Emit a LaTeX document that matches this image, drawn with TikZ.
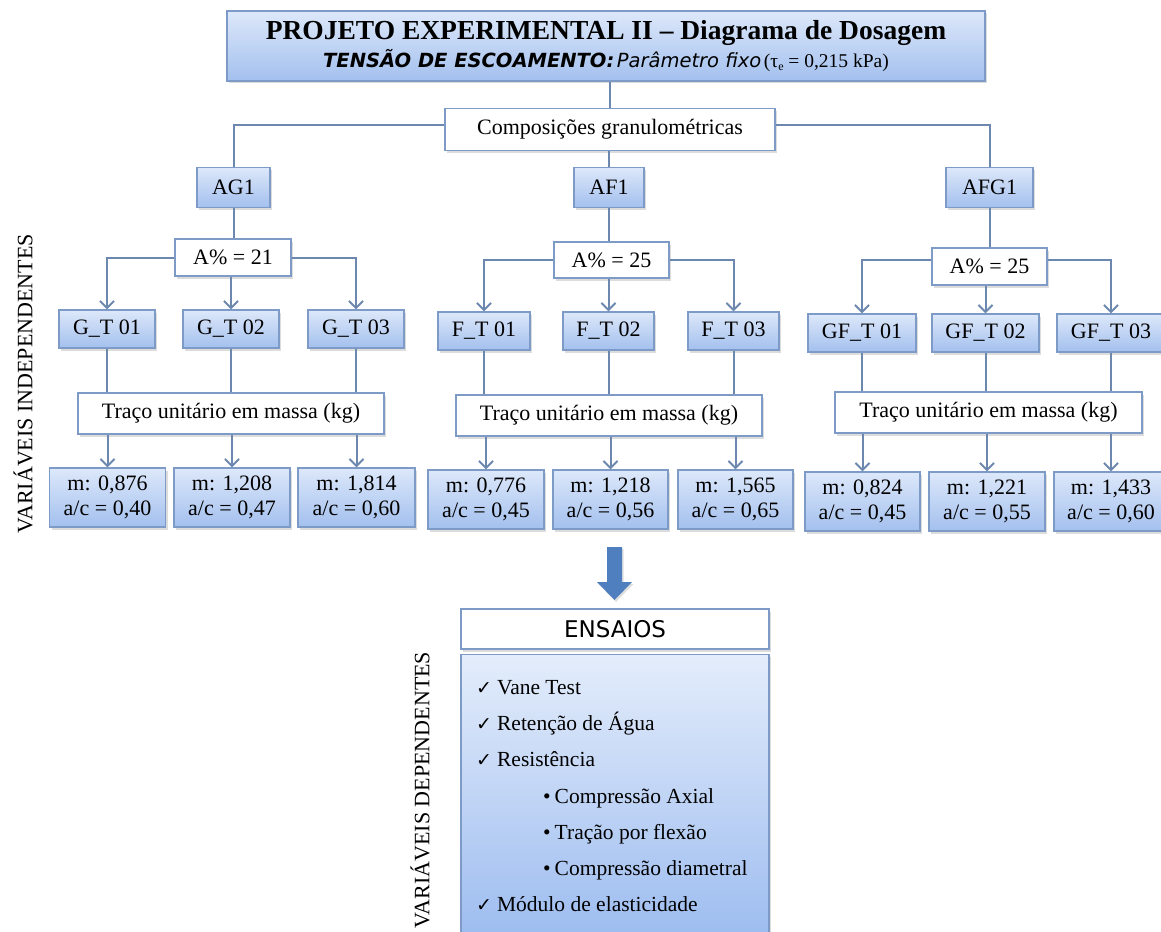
\documentclass[tikz,border=0pt]{standalone}
\usepackage{fontspec}
\setmainfont{Liberation Serif}
\newfontfamily\handfont{DejaVu Sans}
\newfontfamily\symfont{DejaVu Sans}
\usetikzlibrary{arrows.meta,shadows}
\definecolor{boxtop}{HTML}{DDE8FA}
\definecolor{boxbot}{HTML}{A3C0EE}
\definecolor{listbot}{HTML}{9BBBEF}
\definecolor{edgecol}{HTML}{7D9BC6}
\definecolor{wirecol}{HTML}{6C88AE}
\definecolor{bigarrowcol}{HTML}{4F7FBE}
\newcommand\setfs[2]{\fontsize{#1}{#2}\selectfont}

\begin{document}
\begin{tikzpicture}[x=1pt,y=-1pt,
  box/.style={draw=edgecol, line width=1.3pt, inner sep=0pt, align=center,
    drop shadow={shadow xshift=2pt,shadow yshift=-2.5pt,opacity=0.28}},
  bluebox/.style={box, top color=boxtop, bottom color=boxbot},
  whitebox/.style={box, fill=white},
  wirestyle/.style={draw=wirecol, line width=2pt},
  arr/.style={wirestyle, -{Straight Barb[length=7pt,width=14pt]}},
  body/.style={font=\setfs{22}{25.5}},
  val/.style={bluebox, body, minimum height=59},
  item/.style={anchor=west, inner sep=0pt, text height=16pt, text depth=2pt, font=\setfs{21.5}{25}},
]
\useasboundingbox (0,0) rectangle (1161,931);
\clip (0,0) rectangle (1161,931);

% title
\node[bluebox, minimum width=758, minimum height=70] (title) at (606,46)
  {{\setfs{27.5}{30}\bfseries PROJETO EXPERIMENTAL II -- Diagrama de Dosagem}\\[3pt]
   {\setfs{19.5}{22}\handfont\bfseries\itshape TENSÃO DE ESCOAMENTO:}
   {\setfs{19.5}{22}\handfont\itshape Parâmetro fixo}
   {\setfs{19.5}{22}(τ\raisebox{-2.5pt}{\setfs{12}{13}e} = 0,215 kPa)}};

\node[whitebox, body, minimum width=330, minimum height=42] (comp) at (610,129.5) {Composições granulométricas};

% compositions
\node[bluebox, body, minimum width=73, minimum height=40] (AG1) at (233.5,187.5) {AG1};
\node[bluebox, body, minimum width=70, minimum height=40] (AF1) at (609,187.5) {AF1};
\node[bluebox, body, minimum width=87, minimum height=40] (AFG1) at (989.5,187.5) {AFG1};

\node[whitebox, body, minimum width=116, minimum height=37] (A21) at (233,257.5) {A\% = 21};
\node[whitebox, body, minimum width=115, minimum height=36] (A25m) at (611.5,260) {A\% = 25};
\node[whitebox, body, minimum width=115, minimum height=37] (A25r) at (989.5,266.5) {A\% = 25};

% mixes
\node[bluebox, body, minimum width=96, minimum height=38] (G1) at (107,329) {G\_T 01};
\node[bluebox, body, minimum width=96, minimum height=38] (G2) at (231,329) {G\_T 02};
\node[bluebox, body, minimum width=96, minimum height=38] (G3) at (356,329) {G\_T 03};
\node[bluebox, body, minimum width=92, minimum height=38] (F1) at (484,331) {F\_T 01};
\node[bluebox, body, minimum width=91, minimum height=38] (F2) at (608.5,331) {F\_T 02};
\node[bluebox, body, minimum width=91, minimum height=38] (F3) at (733.5,331) {F\_T 03};
\node[bluebox, body, minimum width=108, minimum height=38] (GF1) at (862,333) {GF\_T 01};
\node[bluebox, body, minimum width=107, minimum height=38] (GF2) at (985.5,333) {GF\_T 02};
\node[bluebox, body, minimum width=108, minimum height=38] (GF3) at (1111,333) {GF\_T 03};

% unit mix labels
\node[whitebox, body, minimum width=306, minimum height=41] (TL) at (231,413.5) {Traço unitário em massa (kg)};
\node[whitebox, body, minimum width=306, minimum height=41] (TM) at (609,415.5) {Traço unitário em massa (kg)};
\node[whitebox, body, minimum width=307, minimum height=41] (TR) at (988.5,412.5) {Traço unitário em massa (kg)};

% values
\node[val, minimum width=116] (VL1) at (107.5,497.5) {m: 0,876\\a/c = 0,40};
\node[val, minimum width=116] (VL2) at (232,497.5) {m: 1,208\\a/c = 0,47};
\node[val, minimum width=117] (VL3) at (356.5,497.5) {m: 1,814\\a/c = 0,60};
\node[val, minimum width=116] (VM1) at (486,499.5) {m: 0,776\\a/c = 0,45};
\node[val, minimum width=115] (VM2) at (610.5,499.5) {m: 1,218\\a/c = 0,56};
\node[val, minimum width=115] (VM3) at (735.5,499.5) {m: 1,565\\a/c = 0,65};
\node[val, minimum width=115] (VR1) at (862.5,501.5) {m: 0,824\\a/c = 0,45};
\node[val, minimum width=116] (VR2) at (987,501.5) {m: 1,221\\a/c = 0,55};
\node[val, minimum width=114] (VR3) at (1111,501.5) {m: 1,433\\a/c = 0,60};

% side labels
\node[rotate=90, inner sep=0pt, font=\setfs{22}{26}] (indep) at (23,384) {VARIÁVEIS INDEPENDENTES};
\node[rotate=90, inner sep=0pt, font=\setfs{22}{26}] (dep) at (420,790) {VARIÁVEIS DEPENDENTES};

% connectors
\draw[wirestyle] (comp.north |- title.south) -- (comp.north);
\draw[wirestyle] ([yshift=4pt]comp.west) -| (AG1.north);
\draw[wirestyle] ([yshift=4pt]comp.east) -| (AFG1.north);
\draw[wirestyle] (comp.south -| AF1.north) -- (AF1.north);
\draw[wirestyle] (AG1.south) -- (AG1.south |- A21.north);
\draw[wirestyle] (AF1.south) -- (AF1.south |- A25m.north);
\draw[wirestyle] (AFG1.south) -- (AFG1.south |- A25r.north);

\draw[arr] (A21.west) -| (G1.north);
\draw[arr] (A21.south -| G2.north) -- (G2.north);
\draw[arr] (A21.east) -| (G3.north);
\draw[arr] (A25m.west) -| (F1.north);
\draw[arr] (A25m.south -| F2.north) -- (F2.north);
\draw[arr] (A25m.east) -| (F3.north);
\draw[arr] ([yshift=6.5pt]A25r.west) -| (GF1.north);
\draw[arr] (A25r.south -| GF2.north) -- (GF2.north);
\draw[arr] ([yshift=6.5pt]A25r.east) -| (GF3.north);

\foreach \g in {G1,G2,G3} \draw[wirestyle] (\g.south) -- (\g.south |- TL.north);
\foreach \g in {F1,F2,F3} \draw[wirestyle] (\g.south) -- (\g.south |- TM.north);
\foreach \g in {GF1,GF2,GF3} \draw[wirestyle] (\g.south) -- (\g.south |- TR.north);
\foreach \v in {VL1,VL2,VL3} \draw[arr] (TL.south -| \v.north) -- (\v.north);
\foreach \v in {VM1,VM2,VM3} \draw[arr] (TM.south -| \v.north) -- (\v.north);
\foreach \v in {VR1,VR2,VR3} \draw[arr] (TR.south -| \v.north) -- (\v.north);

% block arrow towards the tests
\fill[bigarrowcol, drop shadow={shadow xshift=1.5pt,shadow yshift=-2pt,opacity=0.25}]
  (607,547) -- (622,547) -- (622,582) -- (632,582) -- (614.5,600) -- (597,582) -- (607,582) -- cycle;

% tests
\node[whitebox, minimum width=308, minimum height=40, font=\handfont\setfs{23}{26}] (ens) at (615,629) {ENSAIOS};
\node[box, top color=boxtop!80!white, bottom color=listbot, minimum width=308, minimum height=290, anchor=north] (tests) at (615,654) {};

\node[item] (t1) at (476,687) {{\symfont\setfs{19}{20}✓}\hspace{5pt}Vane Test};
\node[item] (t2) at (476,723) {{\symfont\setfs{19}{20}✓}\hspace{5pt}Retenção de Água};
\node[item] (t3) at (476,759) {{\symfont\setfs{19}{20}✓}\hspace{5pt}Resistência};
\node[item] (t4) at (543,796) {•\hspace{4pt}Compressão Axial};
\node[item] (t5) at (543,832) {•\hspace{4pt}Tração por flexão};
\node[item] (t6) at (543,868) {•\hspace{4pt}Compressão diametral};
\node[item] (t7) at (476,904) {{\symfont\setfs{19}{20}✓}\hspace{5pt}Módulo de elasticidade};
\end{tikzpicture}
\end{document}
